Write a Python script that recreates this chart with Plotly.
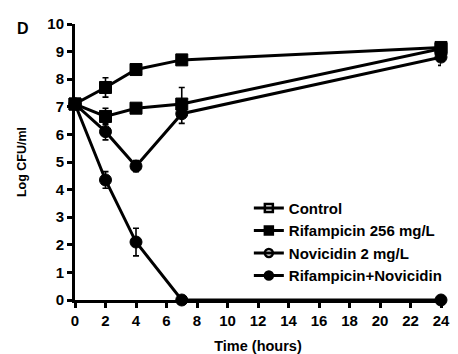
import plotly.graph_objects as go

time = [0, 2, 4, 7, 24]
control = [7.1, 7.7, 8.35, 8.7, 9.15]
control_err_up = [0, 0.35, 0.1, 0.1, 0.1]
control_err_dn = [0, 0.35, 0.1, 0.1, 0.1]
rif = [7.1, 6.65, 6.95, 7.1, 9.1]
rif_err_up = [0, 0.3, 0.15, 0.6, 0.1]
rif_err_dn = [0, 0.3, 0.15, 0.0, 0.1]
nov = [7.1, 6.1, 4.85, 6.75, 8.8]
nov_err_up = [0, 0.3, 0.2, 0.0, 0.0]
nov_err_dn = [0, 0.3, 0.2, 0.35, 0.3]
combo = [7.1, 4.35, 2.1, 0, 0]
combo_err_up = [0, 0.3, 0.5, 0, 0]
combo_err_dn = [0, 0.3, 0.5, 0, 0]

x_ticks = list(range(0, 25, 2))
y_ticks = list(range(0, 11))

names = ["Control", "Rifampicin 256 mg/L", "Novicidin 2 mg/L", "Rifampicin+Novicidin"]
series = [
    (control, control_err_up, control_err_dn, "square"),
    (rif, rif_err_up, rif_err_dn, "square"),
    (nov, nov_err_up, nov_err_dn, "circle"),
    (combo, combo_err_up, combo_err_dn, "circle"),
]
legend_symbols = ["square-open", "square", "circle-open", "circle"]

font = "'Liberation Sans', Arial, sans-serif"
fig = go.Figure()
for i, (name, (y, eu, ed, sym)) in enumerate(zip(names, series)):
    fig.add_trace(go.Scatter(
        x=time, y=y, name=name, mode="lines+markers",
        line=dict(color="black", width=3),
        marker=dict(symbol=sym, size=12, color="black", line=dict(color="black", width=1)),
        error_y=dict(type="data", array=eu, arrayminus=ed, symmetric=False,
                     color="black", thickness=1.6, width=3),
        cliponaxis=False, showlegend=False,
    ))
    fig.add_trace(go.Scatter(
        x=[None], y=[None], name=f"<b>{name}</b>", mode="lines+markers",
        line=dict(color="black", width=3),
        marker=dict(symbol=legend_symbols[i], size=8, color="black",
                    line=dict(color="black", width=2.5)),
        legendgroup=f"g{i}", showlegend=True,
    ))

fig.update_layout(
    width=458, height=354,
    margin=dict(l=75, r=17, t=24, b=54, autoexpand=False),
    paper_bgcolor="white", plot_bgcolor="white",
    font=dict(family=font, color="black"),
    showlegend=True,
    legend=dict(x=0.475, y=0.392, xanchor="left", yanchor="top",
                font=dict(size=15, family=font),
                tracegroupgap=0, itemwidth=30, bgcolor="rgba(0,0,0,0)"),
    xaxis=dict(range=[0, 24], tickvals=x_ticks, ticktext=[f"<b>{t}</b>" for t in x_ticks],
               automargin=False,
               showgrid=False, zeroline=False, showline=True, linecolor="black", linewidth=3,
               ticks="outside", ticklen=5, tickwidth=2.5, tickcolor="black",
               tickfont=dict(size=15, family=font),
               title=dict(text="<b>Time (hours)</b>", font=dict(size=14.5, family=font), standoff=13)),
    yaxis=dict(range=[0, 10], tickvals=y_ticks, ticktext=[f"<b>{t}</b>" for t in y_ticks],
               automargin=False,
               showgrid=False, zeroline=False, showline=True, linecolor="black", linewidth=3,
               ticks="outside", ticklen=5, tickwidth=2.5, tickcolor="black",
               tickfont=dict(size=15, family=font),
               title=dict(text="<b>Log CFU/ml</b>", font=dict(size=12.5, family=font), standoff=18)),
    annotations=[dict(text="<b>D</b>", x=-0.142, y=0.9855, xref="paper", yref="paper",
                      xanchor="center", yanchor="middle",
                      showarrow=False, font=dict(size=16, family=font))],
)
fig.write_html("out.html")
